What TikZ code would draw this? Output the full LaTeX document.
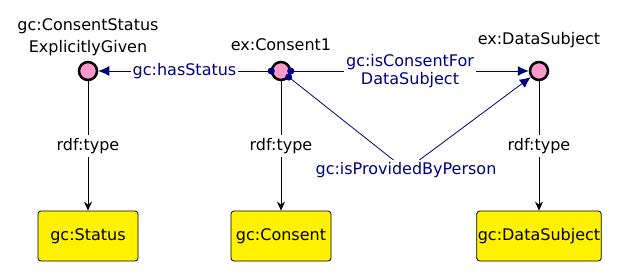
\documentclass[tikz,border=0pt]{standalone}
\usepackage{fontspec}
\setmainfont{DejaVu Sans}
\usetikzlibrary{arrows.meta,positioning}

\definecolor{propblue}{RGB}{0,0,128}
\definecolor{respink}{RGB}{255,153,204}

\begin{document}
\begin{tikzpicture}[x=1pt,y=-1pt,font=\fontsize{16}{22}\selectfont,node distance=165pt]
    \tikzstyle{resource}=[circle,draw=black,line width=2.5pt,fill=respink,minimum size=18pt,inner sep=0pt]
    \tikzstyle{class}=[rectangle,rounded corners=3pt,draw=black,line width=0.8pt,fill=yellow,minimum width=100pt,minimum height=50pt,inner sep=1pt]
    \tikzstyle{prop}=[draw=propblue,line width=0.8pt,shorten <=-4pt,{Circle[length=7pt]}-{Latex[length=11pt,width=10pt]}]
    \tikzstyle{plabel}=[fill=white,text=propblue,align=center,inner sep=2pt,font=\fontsize{16}{18}\selectfont]
    \tikzstyle{type}=[draw=black,line width=0.8pt,-{Stealth[length=9pt,width=8pt,inset=3pt]}]
    \useasboundingbox (0,0) rectangle (618,276);
    % instances
    \node[resource] (1) at (88,71)  [label={[align=center,label distance=1pt]above:{gc:ConsentStatus\\ExplicitlyGiven}}] {};
    \node[resource] (2) at (281,71) [label={[label distance=6pt]above:{ex:Consent1}}] {};
    \node[resource] (3) at (539,71) [label={[label distance=9pt]above:{ex:DataSubject}}] {};
    % classes
    \node[class] (4) [below of=1] {gc:Status};
    \node[class] (5) [below of=2] {gc:Consent};
    \node[class] (6) [below of=3] {gc:DataSubject};
    % properties
    \draw[prop] (2) -- node[plabel] {gc:hasStatus} (1);
    \draw[prop] (2) -- node[plabel] {gc:isConsentFor\\DataSubject} (3);
    \coordinate (p) at (406,170);
    \draw[prop] (2) -- (p) -- (3);
    \node[plabel] (7) at (p) {gc:isProvidedByPerson};
    % types
    \draw[type] (1) -- node[fill=white] {rdf:type} (4);
    \draw[type] (2) -- node[fill=white] {rdf:type} (5);
    \draw[type] (3) -- node[fill=white] {rdf:type} (6);
\end{tikzpicture}
\end{document}
